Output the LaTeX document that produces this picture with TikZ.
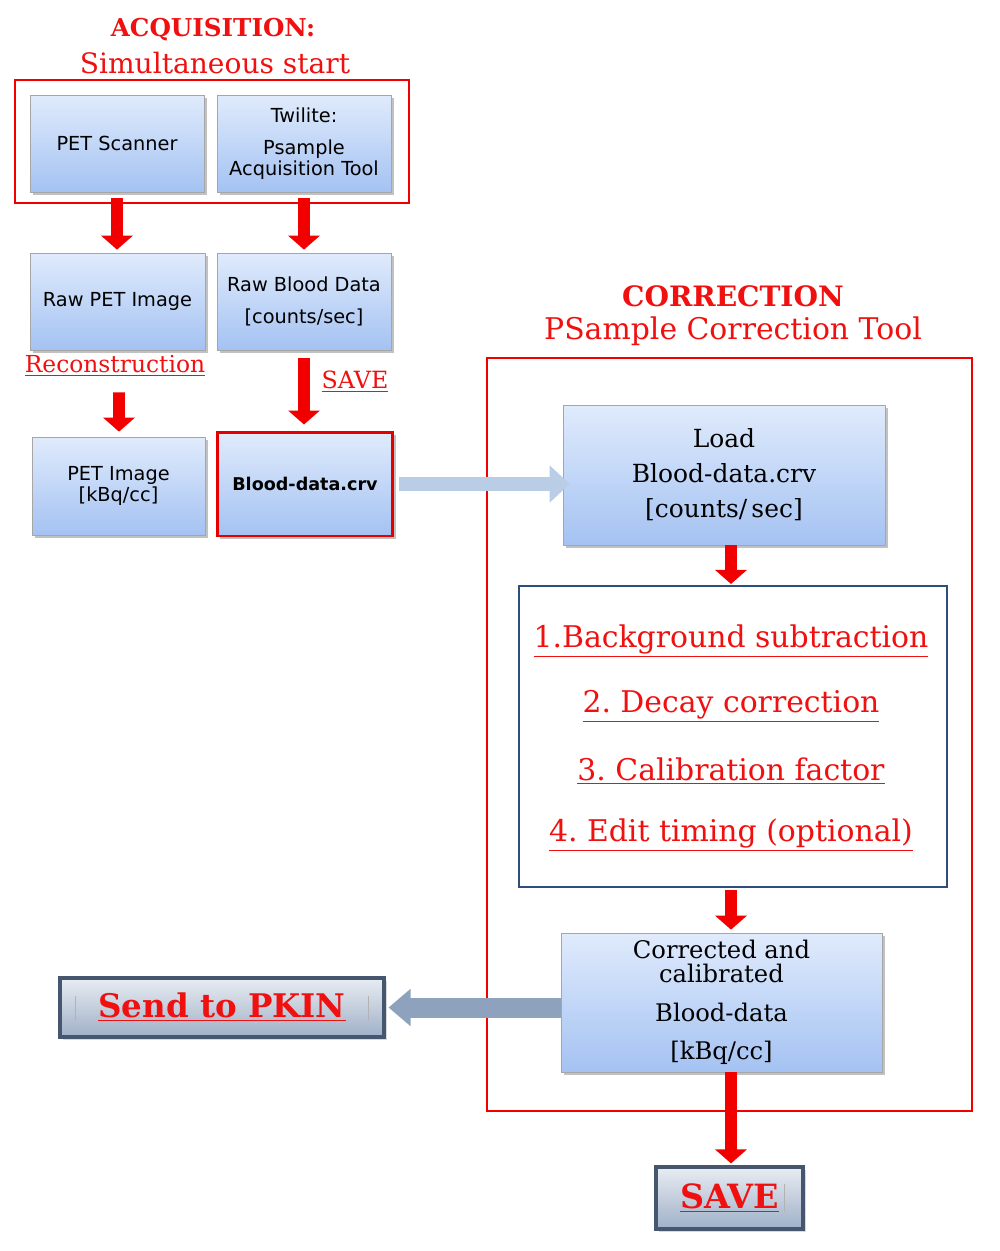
\documentclass[tikz,border=0pt]{standalone}
\usepackage{fontspec}
\setmainfont{DejaVu Serif}
\newfontfamily\boxsans{DejaVu Sans}
\usetikzlibrary{arrows.meta,shadows,calc}
\definecolor{boxtop}{HTML}{E0EBFC}
\definecolor{boxbot}{HTML}{A4C2F2}
\definecolor{arrred}{HTML}{F20000}
\definecolor{titred}{HTML}{F01010}
\definecolor{navy}{HTML}{2E4E7E}
\definecolor{ltblue}{HTML}{B9CDE6}
\definecolor{grblue}{HTML}{8EA2BE}
\definecolor{btnedge}{HTML}{46566E}
\tikzset{
  box/.style={draw=black!35, top color=boxtop, bottom color=boxbot,
    drop shadow={shadow xshift=1.6pt, shadow yshift=-1.6pt, opacity=0.35, fill=black!70},
    align=center, inner sep=2pt},
  sansbox/.style={box, font=\boxsans\fontsize{11}{13.5}\selectfont},
  serifbox/.style={box, font=\fontsize{14.2}{18}\selectfont},
  redarrow/.style={draw=arrred, line width=0.24cm, -{Triangle[width=0.62cm,length=0.28cm]}},
  frame/.style={draw=arrred, line width=1.6pt},
  redtitle/.style={text=titred, font=\bfseries\fontsize{14}{16}\selectfont},
  redsub/.style={text=titred, font=\fontsize{16}{18}\selectfont},
  stepitem/.style={text=titred, font=\fontsize{17}{19}\selectfont},
  button/.style={draw=btnedge, line width=1.8pt, top color=white!80!grblue, bottom color=grblue!85!white,
    drop shadow={shadow xshift=1.6pt, shadow yshift=-1.6pt, opacity=0.3}, inner sep=0pt},
  btntext/.style={text=titred, font=\bfseries\fontsize{18.5}{20}\selectfont},
}
\begin{document}
\begin{tikzpicture}[x=0.02cm,y=-0.02cm]
\useasboundingbox (0,0) rectangle (1000,1251);

% titles
\node[redtitle] (acqt) at (213,30) {ACQUISITION:};
\node[redsub] (acqs) at (215,63) {Simultaneous start};
\node[redtitle, font=\bfseries\fontsize{16}{18}\selectfont] (cort) at (733,296) {CORRECTION};
\node[redsub, font=\fontsize{17}{19}\selectfont] (cors) at (733,331) {PSample Correction Tool};

% frames
\draw[frame] (15,80) rectangle (409,203);
\draw[frame] (487,358) rectangle (972,1111);

% left column boxes
\node[sansbox, minimum width=3.48cm, minimum height=1.94cm] (scan) at (117,143.5) {PET Scanner};
\node[sansbox, minimum width=3.48cm, minimum height=1.94cm] (twil) at (304,143.5) {Twilite:\\[5pt]Psample\\[-2pt]Acquisition Tool};
\node[sansbox, minimum width=3.5cm, minimum height=1.94cm] (rawpet) at (117.5,301.5) {Raw PET Image};
\node[sansbox, minimum width=3.48cm, minimum height=1.94cm] (rawbl) at (304,301.5) {Raw Blood Data\\[5pt][counts/sec]};
\node[sansbox, minimum width=3.46cm, minimum height=1.96cm] (petimg) at (118.5,486) {PET Image\\[-2pt][kBq/cc]};
\node[sansbox, draw=red!90!black, line width=1.7pt, minimum width=3.52cm, minimum height=2.08cm, font=\boxsans\bfseries\fontsize{10}{13}\selectfont] (blood) at (305,484) {Blood-data.crv};

% labels
\node[text=titred, font=\fontsize{13.3}{15}\selectfont] (recon) at (115,366) {\underline{Reconstruction}};
\node[text=titred, font=\fontsize{13.5}{15}\selectfont] (savelab) at (355,382) {\underline{SAVE}};

% right column
\node[serifbox, minimum width=6.44cm, minimum height=2.8cm] (load) at (724,475) {Load\\[2pt]Blood-data.crv\\[2pt][counts/\,sec]};
\node[draw=navy, line width=1.2pt, fill=white, minimum width=8.56cm, minimum height=6.02cm] (steps) at (733,736.5) {};
\node[stepitem] (s1) at (731,641) {\underline{1.Background subtraction}};
\node[stepitem] (s2) at (731,706) {\underline{2.\ Decay correction}};
\node[stepitem] (s3) at (731,771) {\underline{3.\ Calibration factor}};
\node[stepitem] (s4) at (731,835) {\underline{4.\ Edit timing (optional)}};
\node[serifbox, minimum width=6.42cm, minimum height=2.78cm, font=\fontsize{13.8}{13.5}\selectfont] (corr) at (721.5,1002.5) {Corrected and\\calibrated\\[9pt]Blood-data\\[8pt][kBq/cc]};

% buttons
\node[button, minimum width=6.48cm, minimum height=1.18cm] (pkin) at (222,1007.5) {};
\draw[black!30, line width=0.6pt] ($(pkin.west)+(17,-12)$) -- ($(pkin.west)+(17,12)$);
\draw[black!30, line width=0.6pt] ($(pkin.east)+(-17,-12)$) -- ($(pkin.east)+(-17,12)$);
\node[btntext] (pkint) at (pkin.center) {\underline{Send to PKIN}};
\node[button, minimum width=2.94cm, minimum height=1.24cm] (save) at (729.5,1198) {};
\draw[black!30, line width=0.6pt] ($(save.east)+(-20,-14)$) -- ($(save.east)+(-20,14)$);
\node[btntext, font=\bfseries\fontsize{19}{21}\selectfont] (savet) at (save.center) {\underline{SAVE}};

% red arrows
\draw[redarrow, shorten <=0.12cm, shorten >=0.06cm] (scan.south) -- (rawpet.north -| scan.south);
\draw[redarrow, shorten <=0.12cm, shorten >=0.06cm] (twil.south) -- (rawbl.north);
\draw[redarrow, shorten <=0.84cm, shorten >=0.1cm] ([xshift=0.03cm]rawpet.south) -- ([xshift=0.01cm]petimg.north);
\draw[redarrow, shorten <=0.16cm, shorten >=0.12cm] (rawbl.south) -- (rawbl.south |- blood.north);
\draw[redarrow, shorten >=0.02cm] ([xshift=0.14cm]load.south) -- ([xshift=0.14cm]load.south |- steps.north);
\draw[redarrow, shorten <=0.04cm, shorten >=0.06cm] ([xshift=-0.04cm]steps.south) -- ([xshift=-0.04cm]steps.south |- corr.north);
\draw[redarrow, shorten >=0.04cm] ([xshift=0.19cm]corr.south) -- ([xshift=0.19cm]corr.south |- save.north);

% block arrows
\draw[ltblue, line width=0.27cm, -{Triangle[width=0.72cm,length=0.4cm]}, shorten <=0.1cm, shorten >=-0.14cm] (blood.east) -- (load.west |- blood.east);
\draw[grblue, line width=0.4cm, -{Triangle[width=0.72cm,length=0.44cm]}, shorten >=0.06cm] (corr.west |- pkin.east) -- (pkin.east);
\end{tikzpicture}
\end{document}
